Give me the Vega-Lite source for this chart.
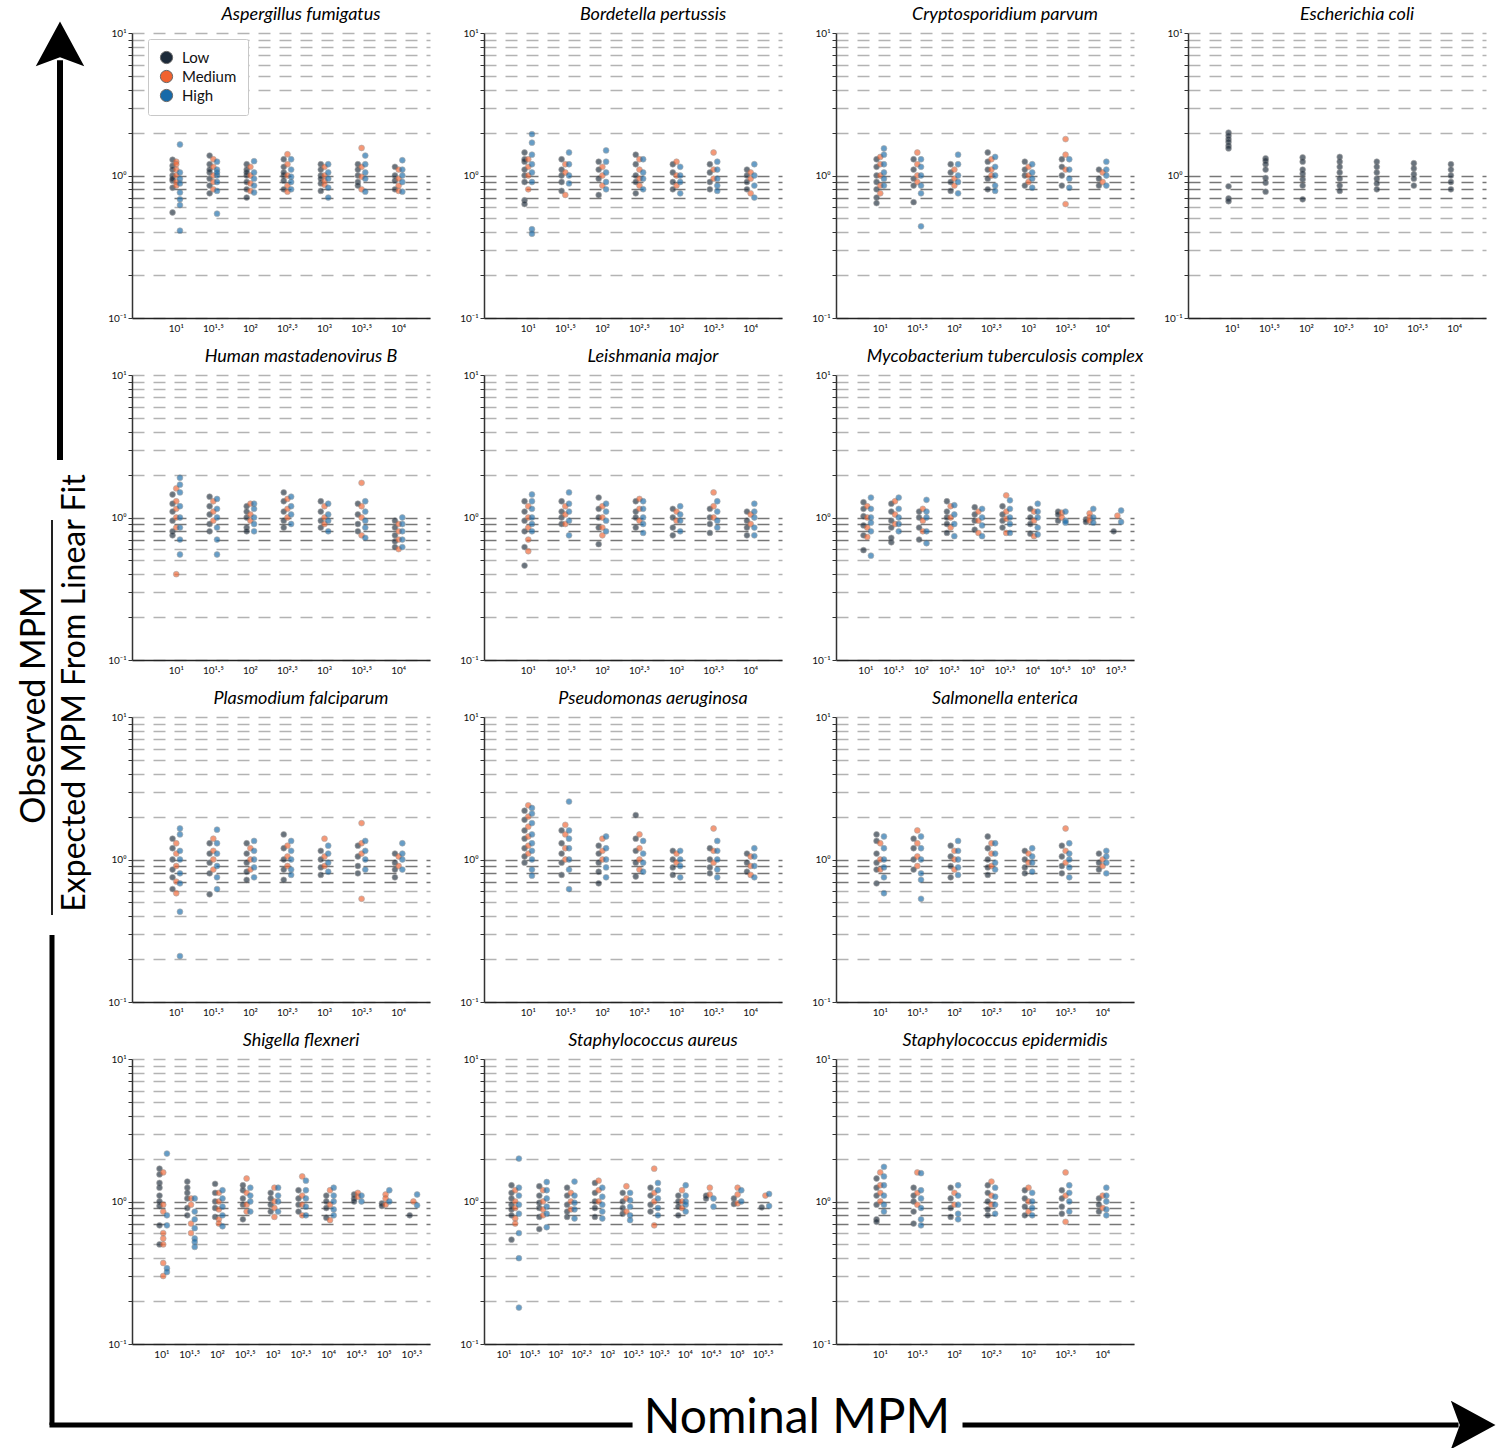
{
"$schema":"https://vega.github.io/schema/vega-lite/v6.json",
"padding":{"left":0,"top":6,"right":0,"bottom":0},
"background":"white",
"config":{"view":{"stroke":null},"font":"Lato",
 "title":{"fontSize":18,"fontStyle":"italic","fontWeight":"normal","font":"Lato","offset":4,"dx":20,"color":"black"},
 "axisX":{"domainColor":"#222","domainWidth":1.5,"labelFontSize":10,"labelPadding":5,"labelColor":"#111","grid":false,"ticks":false,"labelAngle":0,"labelFont":"Lato"},
 "axisY":{"domainColor":"#333","domainWidth":1.5,"tickColor":"#333","tickSize":4,"labelFontSize":10,"labelPadding":2,"labelColor":"#111","gridDash":[12,9],"gridWidth":1.3,"labelFont":"Lato"}
},
"datasets":{"pts":[
{"p":"Af","n":"10¹","Low":[1.29,1.17,1.0,0.92,0.82,0.55,0.95,1.1],"Medium":[1.25,1.1,0.9,1.0,0.85,1.2],"High":[1.65,1.05,0.95,0.76,0.68,0.62,0.41,0.88]},
{"p":"Af","n":"10¹·⁵","Low":[1.38,1.2,1.05,0.95,0.85,0.75,1.1],"Medium":[1.3,1.15,1.0,0.9,0.8],"High":[1.25,1.1,1.0,0.9,0.78,0.54,1.05]},
{"p":"Af","n":"10²","Low":[1.2,1.1,1.0,0.9,0.8,0.7,1.05],"Medium":[1.15,1.0,0.88,0.78],"High":[1.26,1.05,0.95,0.85,0.76]},
{"p":"Af","n":"10²·⁵","Low":[1.3,1.15,1.0,0.92,0.8,1.05],"Medium":[1.41,1.2,1.0,0.85,0.77],"High":[1.3,1.1,0.98,0.9,0.8]},
{"p":"Af","n":"10³","Low":[1.2,1.1,1.0,0.88,0.78,0.95],"Medium":[1.15,1.0,0.86,0.92],"High":[1.2,1.05,0.95,0.82,0.7]},
{"p":"Af","n":"10³·⁵","Low":[1.2,1.1,1.0,0.9,0.85],"Medium":[1.56,1.15,0.98,0.8],"High":[1.38,1.2,1.05,0.95,0.77]},
{"p":"Af","n":"10⁴","Low":[1.15,1.0,0.92,0.8],"Medium":[1.1,0.95,0.78,0.85],"High":[1.28,1.1,1.0,0.9,0.77]},
{"p":"Bp","n":"10¹","Low":[1.45,1.25,1.1,1.0,0.9,0.67,1.3,0.63],"Medium":[1.3,1.15,0.8,1.0],"High":[1.95,1.7,1.4,1.2,1.05,0.9,0.42,0.39]},
{"p":"Bp","n":"10¹·⁵","Low":[1.3,1.1,1.0,0.9,0.78],"Medium":[1.2,1.05,0.73],"High":[1.45,1.2,1.0,0.88]},
{"p":"Bp","n":"10²","Low":[1.25,1.1,0.95,0.73],"Medium":[1.15,1.0,0.85],"High":[1.5,1.25,1.05,0.9,0.8]},
{"p":"Bp","n":"10²·⁵","Low":[1.4,1.2,1.0,0.9,0.75],"Medium":[1.3,1.1,0.95,0.85],"High":[1.3,1.05,0.95,0.8]},
{"p":"Bp","n":"10³","Low":[1.2,1.05,0.9,0.8],"Medium":[1.25,1.0,0.85],"High":[1.15,1.0,0.9,0.75]},
{"p":"Bp","n":"10³·⁵","Low":[1.2,1.05,0.9,0.8],"Medium":[1.45,1.1,0.95],"High":[1.25,1.1,0.95,0.85,0.78]},
{"p":"Bp","n":"10⁴","Low":[1.1,1.0,0.9,0.8],"Medium":[1.05,0.95,0.75],"High":[1.2,1.0,0.85,0.7]},
{"p":"Cp","n":"10¹","Low":[1.3,1.15,1.0,0.9,0.8,0.7,0.64],"Medium":[1.35,1.2,1.0,0.85,0.75],"High":[1.55,1.4,1.2,1.05,0.95,0.85]},
{"p":"Cp","n":"10¹·⁵","Low":[1.3,1.1,0.95,0.85,0.65],"Medium":[1.45,1.2,1.0,0.9],"High":[1.3,1.15,1.0,0.85,0.75,0.44]},
{"p":"Cp","n":"10²","Low":[1.2,1.05,0.9,0.78],"Medium":[1.1,0.95,0.85],"High":[1.4,1.2,1.0,0.9,0.75]},
{"p":"Cp","n":"10²·⁵","Low":[1.45,1.25,1.1,0.95,0.8],"Medium":[1.3,1.1,1.0],"High":[1.35,1.15,1.0,0.85,0.78]},
{"p":"Cp","n":"10³","Low":[1.25,1.1,1.0,0.85],"Medium":[1.15,1.0,0.9],"High":[1.2,1.05,0.95,0.82]},
{"p":"Cp","n":"10³·⁵","Low":[1.3,1.15,1.0,0.85],"Medium":[1.8,1.4,1.1,0.63],"High":[1.3,1.1,0.95,0.82]},
{"p":"Cp","n":"10⁴","Low":[1.1,0.95,0.85],"Medium":[1.05,0.9],"High":[1.25,1.1,1.0,0.85]},
{"p":"Ec","n":"10¹","Low":[2.0,1.9,1.8,1.72,1.62,1.55,0.84,0.69,0.66],"Medium":[],"High":[]},
{"p":"Ec","n":"10¹·⁵","Low":[1.32,1.27,1.2,1.1,0.96,0.89,0.77],"Medium":[],"High":[]},
{"p":"Ec","n":"10²","Low":[1.34,1.25,1.1,1.03,0.94,0.85,0.68],"Medium":[],"High":[]},
{"p":"Ec","n":"10²·⁵","Low":[1.35,1.25,1.15,1.05,0.95,0.85,0.78],"Medium":[],"High":[]},
{"p":"Ec","n":"10³","Low":[1.25,1.15,1.05,0.95,0.88,0.8],"Medium":[],"High":[]},
{"p":"Ec","n":"10³·⁵","Low":[1.22,1.12,1.02,0.95,0.85],"Medium":[],"High":[]},
{"p":"Ec","n":"10⁴","Low":[1.2,1.1,1.0,0.9,0.8],"Medium":[],"High":[]},
{"p":"Hm","n":"10¹","Low":[1.45,1.25,1.1,0.95,0.8,0.75],"Medium":[1.6,1.3,1.15,1.0,0.85,0.4],"High":[1.9,1.7,1.5,1.2,1.0,0.85,0.7,0.55]},
{"p":"Hm","n":"10¹·⁵","Low":[1.4,1.2,1.05,0.9,0.8],"Medium":[1.3,1.1,0.95],"High":[1.35,1.15,1.0,0.85,0.7,0.55]},
{"p":"Hm","n":"10²","Low":[1.2,1.1,1.0,0.85,0.8],"Medium":[1.25,1.05,0.95],"High":[1.25,1.15,1.0,0.9,0.8]},
{"p":"Hm","n":"10²·⁵","Low":[1.5,1.3,1.1,0.95,0.85],"Medium":[1.35,1.15,1.0],"High":[1.4,1.2,1.05,0.9]},
{"p":"Hm","n":"10³","Low":[1.3,1.1,0.95,0.85],"Medium":[1.2,1.0,0.9],"High":[1.25,1.05,0.95,0.8]},
{"p":"Hm","n":"10³·⁵","Low":[1.25,1.05,0.9,0.8],"Medium":[1.75,1.2,1.0,0.75],"High":[1.3,1.1,0.95,0.85,0.72]},
{"p":"Hm","n":"10⁴","Low":[0.95,0.85,0.75,0.68,0.62],"Medium":[0.9,0.8,0.7,0.6],"High":[1.0,0.9,0.8,0.7,0.62]},
{"p":"Lm","n":"10¹","Low":[1.3,1.1,0.95,0.8,0.62,0.46],"Medium":[1.2,1.0,0.85,0.7,0.58],"High":[1.45,1.3,1.15,1.0,0.9,0.8]},
{"p":"Lm","n":"10¹·⁵","Low":[1.3,1.1,1.0,0.9],"Medium":[1.2,1.05,0.9],"High":[1.5,1.25,1.1,0.95,0.75]},
{"p":"Lm","n":"10²","Low":[1.38,1.15,1.0,0.85,0.65],"Medium":[1.2,1.0,0.85,0.75],"High":[1.25,1.1,0.95,0.8]},
{"p":"Lm","n":"10²·⁵","Low":[1.3,1.1,1.0,0.85],"Medium":[1.35,1.15,0.95],"High":[1.3,1.15,1.0,0.9,0.78]},
{"p":"Lm","n":"10³","Low":[1.15,1.0,0.85,0.75],"Medium":[1.1,0.95],"High":[1.2,1.05,0.95,0.8]},
{"p":"Lm","n":"10³·⁵","Low":[1.15,1.0,0.9,0.78],"Medium":[1.5,1.2,1.0],"High":[1.3,1.1,0.95,0.85]},
{"p":"Lm","n":"10⁴","Low":[1.1,0.95,0.85,0.75],"Medium":[1.05,0.9],"High":[1.25,1.1,1.0,0.85,0.75]},
{"p":"Mt","n":"10¹","Low":[1.28,1.15,1.02,0.88,0.75,0.59],"Medium":[1.2,1.0,0.85,0.73],"High":[1.38,1.15,1.0,0.92,0.8,0.54]},
{"p":"Mt","n":"10¹·⁵","Low":[1.25,1.1,0.95,0.85,0.72,0.67],"Medium":[1.3,1.05,0.9],"High":[1.38,1.15,1.0,0.9,0.8]},
{"p":"Mt","n":"10²","Low":[1.1,1.0,0.85,0.7],"Medium":[1.15,0.95,0.8],"High":[1.33,1.1,1.0,0.8,0.66]},
{"p":"Mt","n":"10²·⁵","Low":[1.3,1.1,1.0,0.9,0.78],"Medium":[1.2,1.0,0.85],"High":[1.22,1.05,0.9,0.74]},
{"p":"Mt","n":"10³","Low":[1.18,1.05,0.95,0.82],"Medium":[1.1,0.95,0.78],"High":[1.15,1.0,0.88,0.74]},
{"p":"Mt","n":"10³·⁵","Low":[1.2,1.05,0.95,0.85],"Medium":[1.43,1.1,0.98,0.78],"High":[1.32,1.15,1.0,0.9,0.78]},
{"p":"Mt","n":"10⁴","Low":[1.15,1.0,0.9,0.77],"Medium":[1.1,0.95,0.74],"High":[1.25,1.1,1.0,0.85,0.76]},
{"p":"Mt","n":"10⁴·⁵","Low":[1.1,1.05,0.95],"Medium":[1.08,1.0],"High":[1.1,0.95,0.92]},
{"p":"Mt","n":"10⁵","Low":[0.97,0.93],"Medium":[1.07,1.0,0.95],"High":[1.15,1.0,0.92]},
{"p":"Mt","n":"10⁵·⁵","Low":[0.8],"Medium":[1.03],"High":[1.12,0.93]},
{"p":"Pf","n":"10¹","Low":[1.4,1.2,1.0,0.85,0.75,0.62],"Medium":[1.3,1.1,0.9,0.7,0.58],"High":[1.65,1.5,1.15,1.0,0.8,0.68,0.43,0.21]},
{"p":"Pf","n":"10¹·⁵","Low":[1.3,1.1,0.95,0.8,0.57],"Medium":[1.4,1.15,1.0,0.85],"High":[1.62,1.3,1.1,0.9,0.75,0.62]},
{"p":"Pf","n":"10²","Low":[1.3,1.1,0.95,0.82,0.72],"Medium":[1.2,1.0,0.85],"High":[1.35,1.15,1.0,0.88,0.75]},
{"p":"Pf","n":"10²·⁵","Low":[1.5,1.2,1.0,0.85,0.72],"Medium":[1.25,1.05,0.9],"High":[1.35,1.15,1.0,0.85,0.78]},
{"p":"Pf","n":"10³","Low":[1.15,1.0,0.88,0.78],"Medium":[1.4,1.05,0.9],"High":[1.25,1.1,0.95,0.82]},
{"p":"Pf","n":"10³·⁵","Low":[1.25,1.05,0.9,0.8],"Medium":[1.8,1.3,1.1,0.53],"High":[1.35,1.15,1.0,0.85]},
{"p":"Pf","n":"10⁴","Low":[1.1,0.95,0.85,0.75],"Medium":[1.05,0.9],"High":[1.3,1.1,1.0,0.85]},
{"p":"Pa","n":"10¹","Low":[2.2,1.9,1.6,1.4,1.2,1.05,0.95],"Medium":[2.4,2.0,1.7,1.45,1.25,1.1],"High":[2.3,2.1,1.8,1.5,1.3,1.15,1.0,0.85,0.77]},
{"p":"Pa","n":"10¹·⁵","Low":[1.6,1.3,1.1,0.95,0.78],"Medium":[1.75,1.5,1.2,1.0],"High":[2.55,1.6,1.4,1.2,1.0,0.85,0.62]},
{"p":"Pa","n":"10²","Low":[1.25,1.1,0.95,0.82,0.68],"Medium":[1.4,1.15,1.0],"High":[1.45,1.2,1.0,0.88,0.75]},
{"p":"Pa","n":"10²·⁵","Low":[2.05,1.4,1.15,0.95,0.76],"Medium":[1.5,1.2,1.0,0.85],"High":[1.35,1.1,0.95,0.82]},
{"p":"Pa","n":"10³","Low":[1.15,1.0,0.88,0.78],"Medium":[1.1,0.95],"High":[1.15,1.0,0.9,0.75]},
{"p":"Pa","n":"10³·⁵","Low":[1.2,1.0,0.88,0.8],"Medium":[1.65,1.15,0.95],"High":[1.35,1.15,1.0,0.85,0.75]},
{"p":"Pa","n":"10⁴","Low":[1.1,0.95,0.82],"Medium":[1.05,0.9,0.78],"High":[1.2,1.05,0.9,0.75]},
{"p":"Se","n":"10¹","Low":[1.5,1.35,1.1,0.95,0.85,0.68],"Medium":[1.3,1.0,0.85],"High":[1.45,1.2,1.0,0.88,0.75,0.58]},
{"p":"Se","n":"10¹·⁵","Low":[1.4,1.2,1.0,0.85],"Medium":[1.6,1.3,1.05,0.9],"High":[1.45,1.2,1.0,0.8,0.72,0.53]},
{"p":"Se","n":"10²","Low":[1.25,1.05,0.9,0.75],"Medium":[1.15,1.0,0.85],"High":[1.35,1.15,1.0,0.88,0.78]},
{"p":"Se","n":"10²·⁵","Low":[1.45,1.2,1.0,0.88,0.78],"Medium":[1.3,1.1,0.9],"High":[1.3,1.1,0.95,0.85]},
{"p":"Se","n":"10³","Low":[1.15,1.0,0.88,0.8],"Medium":[1.1,0.95],"High":[1.2,1.05,0.95,0.82]},
{"p":"Se","n":"10³·⁵","Low":[1.25,1.05,0.9,0.8],"Medium":[1.65,1.15,0.95],"High":[1.3,1.1,1.0,0.88,0.75]},
{"p":"Se","n":"10⁴","Low":[1.1,0.95,0.85],"Medium":[1.0,0.9],"High":[1.15,1.05,0.95,0.8]},
{"p":"Sf","n":"10¹","Low":[1.7,1.55,1.35,1.25,1.1,1.0,0.93,0.68,0.5],"Medium":[1.6,0.95,0.85,0.6,0.55,0.5,0.37,0.3],"High":[2.17,0.8,0.68,0.34,0.32]},
{"p":"Sf","n":"10¹·⁵","Low":[1.38,1.25,1.15,1.05,0.9,0.8],"Medium":[1.05,0.95,0.7,0.6],"High":[1.05,0.85,0.75,0.65,0.55,0.52,0.48]},
{"p":"Sf","n":"10²","Low":[1.33,1.15,1.0,0.9,0.78],"Medium":[1.15,1.0,0.88,0.75,0.7],"High":[1.2,1.05,0.92,0.8,0.67]},
{"p":"Sf","n":"10²·⁵","Low":[1.3,1.2,1.05,0.95,0.75],"Medium":[1.45,1.15,0.95,0.85],"High":[1.25,1.1,1.0,0.85]},
{"p":"Sf","n":"10³","Low":[1.15,1.05,0.95,0.85],"Medium":[1.25,1.0,0.9,0.78],"High":[1.25,1.1,1.0,0.85]},
{"p":"Sf","n":"10³·⁵","Low":[1.2,1.05,0.95,0.85],"Medium":[1.5,1.1,0.95,0.8],"High":[1.4,1.2,1.05,0.92,0.8]},
{"p":"Sf","n":"10⁴","Low":[1.1,1.0,0.9,0.77],"Medium":[1.2,0.95,0.74],"High":[1.25,1.1,1.0,0.88,0.8]},
{"p":"Sf","n":"10⁴·⁵","Low":[1.12,1.05,1.0],"Medium":[1.15,1.08],"High":[1.1,1.0]},
{"p":"Sf","n":"10⁵","Low":[0.97,0.93],"Medium":[1.12,1.05,0.95],"High":[1.2,1.0]},
{"p":"Sf","n":"10⁵·⁵","Low":[0.8],"Medium":[1.0],"High":[1.12,0.94]},
{"p":"Sa","n":"10¹","Low":[1.3,1.15,1.05,0.95,0.88,0.8,0.54],"Medium":[1.2,1.0,0.9,0.76,0.7],"High":[2.0,1.25,1.1,0.95,0.82,0.6,0.4,0.18]},
{"p":"Sa","n":"10¹·⁵","Low":[1.28,1.1,0.98,0.9,0.78,0.64],"Medium":[1.2,1.0,0.88,0.8],"High":[1.37,1.2,1.05,0.92,0.82,0.66]},
{"p":"Sa","n":"10²","Low":[1.25,1.1,0.95,0.85,0.78],"Medium":[1.15,1.0,0.88],"High":[1.38,1.1,0.98,0.88,0.76]},
{"p":"Sa","n":"10²·⁵","Low":[1.35,1.15,1.0,0.9,0.78],"Medium":[1.4,1.2,1.0],"High":[1.25,1.08,0.95,0.85,0.76]},
{"p":"Sa","n":"10³","Low":[1.15,1.0,0.9,0.82],"Medium":[1.28,1.05,0.85],"High":[1.15,1.02,0.92,0.8,0.74]},
{"p":"Sa","n":"10³·⁵","Low":[1.25,1.1,0.95,0.85],"Medium":[1.7,1.15,1.0,0.68],"High":[1.35,1.2,1.05,0.9,0.8]},
{"p":"Sa","n":"10⁴","Low":[1.1,1.0,0.92,0.8],"Medium":[1.2,1.0,0.9],"High":[1.3,1.1,1.0,0.95,0.85]},
{"p":"Sa","n":"10⁴·⁵","Low":[1.1,1.05],"Medium":[1.25,1.12],"High":[1.05,0.92]},
{"p":"Sa","n":"10⁵","Low":[1.05,0.96],"Medium":[1.25,1.12,0.97],"High":[1.2,1.0]},
{"p":"Sa","n":"10⁵·⁵","Low":[0.91],"Medium":[1.1],"High":[1.13,0.93]},
{"p":"Sp","n":"10¹","Low":[1.45,1.25,1.1,0.95,0.75,0.72],"Medium":[1.6,1.3,1.15,1.0],"High":[1.75,1.5,1.3,1.1,0.95,0.85]},
{"p":"Sp","n":"10¹·⁵","Low":[1.25,1.1,1.0,0.85,0.7],"Medium":[1.6,1.15,0.95],"High":[1.58,1.2,1.05,0.9,0.75,0.68]},
{"p":"Sp","n":"10²","Low":[1.25,1.05,0.9,0.78],"Medium":[1.15,0.95],"High":[1.3,1.1,0.95,0.82,0.75]},
{"p":"Sp","n":"10²·⁵","Low":[1.3,1.15,1.0,0.88,0.8],"Medium":[1.38,1.1,0.95],"High":[1.25,1.08,0.95,0.82]},
{"p":"Sp","n":"10³","Low":[1.2,1.05,0.92,0.8],"Medium":[1.25,1.0,0.85],"High":[1.15,1.0,0.9,0.8]},
{"p":"Sp","n":"10³·⁵","Low":[1.2,1.05,0.92,0.82],"Medium":[1.6,1.1,0.72],"High":[1.3,1.15,1.0,0.85]},
{"p":"Sp","n":"10⁴","Low":[1.05,0.95,0.85],"Medium":[1.1,0.9],"High":[1.25,1.1,1.0,0.88,0.8]}
]},
"spacing":0,
"resolve":{"legend":{"color":"independent"}},
"vconcat":[
{"spacing":7,"resolve":{"legend":{"color":"independent"}},
 "hconcat":[
  {"width":100,"height":1362,
   "layer":[
    {"data":{"values":[{"x":0.6,"y":0.6865,"x2":0.6,"y2":0.98}]},"mark":{"type":"rule","strokeWidth":6,"color":"black"},
     "encoding":{"x":{"field":"x","type":"quantitative","scale":{"domain":[0,1],"nice":false,"zero":false},"axis":null},"y":{"field":"y","type":"quantitative","scale":{"domain":[0,1],"nice":false,"zero":false},"axis":null},"x2":{"field":"x2"},"y2":{"field":"y2"}}},
    {"data":{"values":[{"x":0.495,"y":0.3377,"x2":0.545,"y2":0}]},"mark":{"type":"rect","color":"black","strokeWidth":0},
     "encoding":{"x":{"field":"x","type":"quantitative"},"y":{"field":"y","type":"quantitative"},"x2":{"field":"x2"},"y2":{"field":"y2"}}},
    {"data":{"values":[{"x":0.52,"y":0.3524,"x2":0.52,"y2":0.6424}]},"mark":{"type":"rule","strokeWidth":2,"color":"#222"},
     "encoding":{"x":{"field":"x","type":"quantitative"},"y":{"field":"y","type":"quantitative"},"x2":{"field":"x2"},"y2":{"field":"y2"}}},
    {"data":{"values":[{"x":0.6,"y":0.9897}]},"mark":{"type":"point","shape":"M0,-1L0.95,0.75L0,0.4L-0.95,0.75Z","size":2600,"filled":true,"color":"black","opacity":1,"strokeWidth":0},
     "encoding":{"x":{"field":"x","type":"quantitative"},"y":{"field":"y","type":"quantitative"}}},
    {"data":{"values":[{"x":0.35,"y":0.5066,"t":"Observed MPM"}]},"mark":{"type":"text","angle":270,"fontSize":34,"font":"Lato","color":"black","baseline":"middle","align":"center"},
     "encoding":{"x":{"field":"x","type":"quantitative"},"y":{"field":"y","type":"quantitative"},"text":{"field":"t"}}},
    {"data":{"values":[{"x":0.75,"y":0.5154,"t":"Expected MPM From Linear Fit"}]},"mark":{"type":"text","angle":270,"fontSize":32,"font":"Lato","color":"black","baseline":"middle","align":"center"},
     "encoding":{"x":{"field":"x","type":"quantitative"},"y":{"field":"y","type":"quantitative"},"text":{"field":"t"}}}
   ]},
  {"data":{"name":"pts"},
   "transform":[{"fold":["Low","Medium","High"]},{"flatten":["value"]}],
   "spacing":15,"resolve":{"legend":{"color":"independent"}},
   "vconcat":[
    {"spacing":54,"bounds":"flush","resolve":{"legend":{"color":"independent"}},"hconcat":[
     {"width":298,"height":285,"title":"Aspergillus fumigatus","transform":[{"filter":"datum.p=='Af'"}],
      "mark":{"type":"point","filled":true,"size":34,"opacity":0.65,"stroke":"#7a7a7a","strokeWidth":0.6},
      "encoding":{
       "x":{"field":"n","type":"nominal","title":null,"scale":{"type":"band","domain":["10¹","10¹·⁵","10²","10²·⁵","10³","10³·⁵","10⁴"],"paddingInner":0.7,"paddingOuter":0.87,"align":0.6}},
       "xOffset":{"field":"key","type":"nominal","sort":["Low","Medium","High"]},
       "y":{"field":"value","type":"quantitative","title":null,"scale":{"type":"log","domain":[0.1,10]},"axis":{"values":[0.1,0.2,0.3,0.4,0.5,0.6,0.7,0.8,0.9,1,2,3,4,5,6,7,8,9,10],"labelExpr":"datum.value==0.1?'10⁻¹':datum.value==1?'10⁰':datum.value==10?'10¹':''","grid":true,"gridColor":{"condition":{"test":"datum.value>=0.65&&datum.value<=1.05","value":"#777"},"value":"#b3b3b3"}}},
       "color":{"field":"key","type":"nominal","scale":{"domain":["Low","Medium","High"],"range":["#1c2a39","#f0622f","#166aa9"]},
        "legend":{"orient":"none","legendX":16,"legendY":6,"title":null,"padding":11,"strokeColor":"#c8c8c8","cornerRadius":2,"fillColor":"white","symbolType":"circle","symbolSize":150,"symbolOpacity":1,"symbolStrokeColor":"#666","symbolStrokeWidth":1,"labelFontSize":15,"labelFont":"Lato","labelColor":"#111","rowPadding":2,"labelOffset":8}}}},
     {"width":298,"height":285,"title":"Bordetella pertussis","transform":[{"filter":"datum.p=='Bp'"}],
      "mark":{"type":"point","filled":true,"size":34,"opacity":0.65,"stroke":"#7a7a7a","strokeWidth":0.6},
      "encoding":{
       "x":{"field":"n","type":"nominal","title":null,"scale":{"type":"band","domain":["10¹","10¹·⁵","10²","10²·⁵","10³","10³·⁵","10⁴"],"paddingInner":0.7,"paddingOuter":0.87,"align":0.6}},
       "xOffset":{"field":"key","type":"nominal","sort":["Low","Medium","High"]},
       "y":{"field":"value","type":"quantitative","title":null,"scale":{"type":"log","domain":[0.1,10]},"axis":{"values":[0.1,0.2,0.3,0.4,0.5,0.6,0.7,0.8,0.9,1,2,3,4,5,6,7,8,9,10],"labelExpr":"datum.value==0.1?'10⁻¹':datum.value==1?'10⁰':datum.value==10?'10¹':''","grid":true,"gridColor":{"condition":{"test":"datum.value>=0.65&&datum.value<=1.05","value":"#777"},"value":"#b3b3b3"}}},
       "color":{"field":"key","type":"nominal","scale":{"domain":["Low","Medium","High"],"range":["#1c2a39","#f0622f","#166aa9"]},"legend":null}}},
     {"width":298,"height":285,"title":"Cryptosporidium parvum","transform":[{"filter":"datum.p=='Cp'"}],
      "mark":{"type":"point","filled":true,"size":34,"opacity":0.65,"stroke":"#7a7a7a","strokeWidth":0.6},
      "encoding":{
       "x":{"field":"n","type":"nominal","title":null,"scale":{"type":"band","domain":["10¹","10¹·⁵","10²","10²·⁵","10³","10³·⁵","10⁴"],"paddingInner":0.7,"paddingOuter":0.87,"align":0.6}},
       "xOffset":{"field":"key","type":"nominal","sort":["Low","Medium","High"]},
       "y":{"field":"value","type":"quantitative","title":null,"scale":{"type":"log","domain":[0.1,10]},"axis":{"values":[0.1,0.2,0.3,0.4,0.5,0.6,0.7,0.8,0.9,1,2,3,4,5,6,7,8,9,10],"labelExpr":"datum.value==0.1?'10⁻¹':datum.value==1?'10⁰':datum.value==10?'10¹':''","grid":true,"gridColor":{"condition":{"test":"datum.value>=0.65&&datum.value<=1.05","value":"#777"},"value":"#b3b3b3"}}},
       "color":{"field":"key","type":"nominal","scale":{"domain":["Low","Medium","High"],"range":["#1c2a39","#f0622f","#166aa9"]},"legend":null}}},
     {"width":298,"height":285,"title":"Escherichia coli","transform":[{"filter":"datum.p=='Ec'"}],
      "mark":{"type":"point","filled":true,"size":34,"opacity":0.65,"stroke":"#7a7a7a","strokeWidth":0.6},
      "encoding":{
       "x":{"field":"n","type":"nominal","title":null,"scale":{"type":"band","domain":["10¹","10¹·⁵","10²","10²·⁵","10³","10³·⁵","10⁴"],"paddingInner":0.7,"paddingOuter":0.87,"align":0.6}},
       "xOffset":{"field":"key","type":"nominal","sort":["Low","Medium","High"]},
       "y":{"field":"value","type":"quantitative","title":null,"scale":{"type":"log","domain":[0.1,10]},"axis":{"values":[0.1,0.2,0.3,0.4,0.5,0.6,0.7,0.8,0.9,1,2,3,4,5,6,7,8,9,10],"labelExpr":"datum.value==0.1?'10⁻¹':datum.value==1?'10⁰':datum.value==10?'10¹':''","grid":true,"gridColor":{"condition":{"test":"datum.value>=0.65&&datum.value<=1.05","value":"#777"},"value":"#b3b3b3"}}},
       "color":{"field":"key","type":"nominal","scale":{"domain":["Low","Medium","High"],"range":["#1c2a39","#f0622f","#166aa9"]},"legend":null}}}
    ]},
    {"spacing":54,"bounds":"flush","resolve":{"legend":{"color":"independent"}},"hconcat":[
     {"width":298,"height":285,"title":"Human mastadenovirus B","transform":[{"filter":"datum.p=='Hm'"}],
      "mark":{"type":"point","filled":true,"size":34,"opacity":0.65,"stroke":"#7a7a7a","strokeWidth":0.6},
      "encoding":{
       "x":{"field":"n","type":"nominal","title":null,"scale":{"type":"band","domain":["10¹","10¹·⁵","10²","10²·⁵","10³","10³·⁵","10⁴"],"paddingInner":0.7,"paddingOuter":0.87,"align":0.6}},
       "xOffset":{"field":"key","type":"nominal","sort":["Low","Medium","High"]},
       "y":{"field":"value","type":"quantitative","title":null,"scale":{"type":"log","domain":[0.1,10]},"axis":{"values":[0.1,0.2,0.3,0.4,0.5,0.6,0.7,0.8,0.9,1,2,3,4,5,6,7,8,9,10],"labelExpr":"datum.value==0.1?'10⁻¹':datum.value==1?'10⁰':datum.value==10?'10¹':''","grid":true,"gridColor":{"condition":{"test":"datum.value>=0.65&&datum.value<=1.05","value":"#777"},"value":"#b3b3b3"}}},
       "color":{"field":"key","type":"nominal","scale":{"domain":["Low","Medium","High"],"range":["#1c2a39","#f0622f","#166aa9"]},"legend":null}}},
     {"width":298,"height":285,"title":"Leishmania major","transform":[{"filter":"datum.p=='Lm'"}],
      "mark":{"type":"point","filled":true,"size":34,"opacity":0.65,"stroke":"#7a7a7a","strokeWidth":0.6},
      "encoding":{
       "x":{"field":"n","type":"nominal","title":null,"scale":{"type":"band","domain":["10¹","10¹·⁵","10²","10²·⁵","10³","10³·⁵","10⁴"],"paddingInner":0.7,"paddingOuter":0.87,"align":0.6}},
       "xOffset":{"field":"key","type":"nominal","sort":["Low","Medium","High"]},
       "y":{"field":"value","type":"quantitative","title":null,"scale":{"type":"log","domain":[0.1,10]},"axis":{"values":[0.1,0.2,0.3,0.4,0.5,0.6,0.7,0.8,0.9,1,2,3,4,5,6,7,8,9,10],"labelExpr":"datum.value==0.1?'10⁻¹':datum.value==1?'10⁰':datum.value==10?'10¹':''","grid":true,"gridColor":{"condition":{"test":"datum.value>=0.65&&datum.value<=1.05","value":"#777"},"value":"#b3b3b3"}}},
       "color":{"field":"key","type":"nominal","scale":{"domain":["Low","Medium","High"],"range":["#1c2a39","#f0622f","#166aa9"]},"legend":null}}},
     {"width":298,"height":285,"title":"Mycobacterium tuberculosis complex","transform":[{"filter":"datum.p=='Mt'"}],
      "mark":{"type":"point","filled":true,"size":34,"opacity":0.65,"stroke":"#7a7a7a","strokeWidth":0.6},
      "encoding":{
       "x":{"field":"n","type":"nominal","title":null,"scale":{"type":"band","domain":["10¹","10¹·⁵","10²","10²·⁵","10³","10³·⁵","10⁴","10⁴·⁵","10⁵","10⁵·⁵"],"paddingInner":0.7,"paddingOuter":0.71,"align":0.65}},
       "xOffset":{"field":"key","type":"nominal","sort":["Low","Medium","High"]},
       "y":{"field":"value","type":"quantitative","title":null,"scale":{"type":"log","domain":[0.1,10]},"axis":{"values":[0.1,0.2,0.3,0.4,0.5,0.6,0.7,0.8,0.9,1,2,3,4,5,6,7,8,9,10],"labelExpr":"datum.value==0.1?'10⁻¹':datum.value==1?'10⁰':datum.value==10?'10¹':''","grid":true,"gridColor":{"condition":{"test":"datum.value>=0.65&&datum.value<=1.05","value":"#777"},"value":"#b3b3b3"}}},
       "color":{"field":"key","type":"nominal","scale":{"domain":["Low","Medium","High"],"range":["#1c2a39","#f0622f","#166aa9"]},"legend":null}}}
    ]},
    {"spacing":54,"bounds":"flush","resolve":{"legend":{"color":"independent"}},"hconcat":[
     {"width":298,"height":285,"title":"Plasmodium falciparum","transform":[{"filter":"datum.p=='Pf'"}],
      "mark":{"type":"point","filled":true,"size":34,"opacity":0.65,"stroke":"#7a7a7a","strokeWidth":0.6},
      "encoding":{
       "x":{"field":"n","type":"nominal","title":null,"scale":{"type":"band","domain":["10¹","10¹·⁵","10²","10²·⁵","10³","10³·⁵","10⁴"],"paddingInner":0.7,"paddingOuter":0.87,"align":0.6}},
       "xOffset":{"field":"key","type":"nominal","sort":["Low","Medium","High"]},
       "y":{"field":"value","type":"quantitative","title":null,"scale":{"type":"log","domain":[0.1,10]},"axis":{"values":[0.1,0.2,0.3,0.4,0.5,0.6,0.7,0.8,0.9,1,2,3,4,5,6,7,8,9,10],"labelExpr":"datum.value==0.1?'10⁻¹':datum.value==1?'10⁰':datum.value==10?'10¹':''","grid":true,"gridColor":{"condition":{"test":"datum.value>=0.65&&datum.value<=1.05","value":"#777"},"value":"#b3b3b3"}}},
       "color":{"field":"key","type":"nominal","scale":{"domain":["Low","Medium","High"],"range":["#1c2a39","#f0622f","#166aa9"]},"legend":null}}},
     {"width":298,"height":285,"title":"Pseudomonas aeruginosa","transform":[{"filter":"datum.p=='Pa'"}],
      "mark":{"type":"point","filled":true,"size":34,"opacity":0.65,"stroke":"#7a7a7a","strokeWidth":0.6},
      "encoding":{
       "x":{"field":"n","type":"nominal","title":null,"scale":{"type":"band","domain":["10¹","10¹·⁵","10²","10²·⁵","10³","10³·⁵","10⁴"],"paddingInner":0.7,"paddingOuter":0.87,"align":0.6}},
       "xOffset":{"field":"key","type":"nominal","sort":["Low","Medium","High"]},
       "y":{"field":"value","type":"quantitative","title":null,"scale":{"type":"log","domain":[0.1,10]},"axis":{"values":[0.1,0.2,0.3,0.4,0.5,0.6,0.7,0.8,0.9,1,2,3,4,5,6,7,8,9,10],"labelExpr":"datum.value==0.1?'10⁻¹':datum.value==1?'10⁰':datum.value==10?'10¹':''","grid":true,"gridColor":{"condition":{"test":"datum.value>=0.65&&datum.value<=1.05","value":"#777"},"value":"#b3b3b3"}}},
       "color":{"field":"key","type":"nominal","scale":{"domain":["Low","Medium","High"],"range":["#1c2a39","#f0622f","#166aa9"]},"legend":null}}},
     {"width":298,"height":285,"title":"Salmonella enterica","transform":[{"filter":"datum.p=='Se'"}],
      "mark":{"type":"point","filled":true,"size":34,"opacity":0.65,"stroke":"#7a7a7a","strokeWidth":0.6},
      "encoding":{
       "x":{"field":"n","type":"nominal","title":null,"scale":{"type":"band","domain":["10¹","10¹·⁵","10²","10²·⁵","10³","10³·⁵","10⁴"],"paddingInner":0.7,"paddingOuter":0.87,"align":0.6}},
       "xOffset":{"field":"key","type":"nominal","sort":["Low","Medium","High"]},
       "y":{"field":"value","type":"quantitative","title":null,"scale":{"type":"log","domain":[0.1,10]},"axis":{"values":[0.1,0.2,0.3,0.4,0.5,0.6,0.7,0.8,0.9,1,2,3,4,5,6,7,8,9,10],"labelExpr":"datum.value==0.1?'10⁻¹':datum.value==1?'10⁰':datum.value==10?'10¹':''","grid":true,"gridColor":{"condition":{"test":"datum.value>=0.65&&datum.value<=1.05","value":"#777"},"value":"#b3b3b3"}}},
       "color":{"field":"key","type":"nominal","scale":{"domain":["Low","Medium","High"],"range":["#1c2a39","#f0622f","#166aa9"]},"legend":null}}}
    ]},
    {"spacing":54,"bounds":"flush","resolve":{"legend":{"color":"independent"}},"hconcat":[
     {"width":298,"height":285,"title":"Shigella flexneri","transform":[{"filter":"datum.p=='Sf'"}],
      "mark":{"type":"point","filled":true,"size":34,"opacity":0.65,"stroke":"#7a7a7a","strokeWidth":0.6},
      "encoding":{
       "x":{"field":"n","type":"nominal","title":null,"scale":{"type":"band","domain":["10¹","10¹·⁵","10²","10²·⁵","10³","10³·⁵","10⁴","10⁴·⁵","10⁵","10⁵·⁵"],"paddingInner":0.7,"paddingOuter":0.71,"align":0.65}},
       "xOffset":{"field":"key","type":"nominal","sort":["Low","Medium","High"]},
       "y":{"field":"value","type":"quantitative","title":null,"scale":{"type":"log","domain":[0.1,10]},"axis":{"values":[0.1,0.2,0.3,0.4,0.5,0.6,0.7,0.8,0.9,1,2,3,4,5,6,7,8,9,10],"labelExpr":"datum.value==0.1?'10⁻¹':datum.value==1?'10⁰':datum.value==10?'10¹':''","grid":true,"gridColor":{"condition":{"test":"datum.value>=0.65&&datum.value<=1.05","value":"#777"},"value":"#b3b3b3"}}},
       "color":{"field":"key","type":"nominal","scale":{"domain":["Low","Medium","High"],"range":["#1c2a39","#f0622f","#166aa9"]},"legend":null}}},
     {"width":298,"height":285,"title":"Staphylococcus aureus",
      "resolve":{"scale":{"x":"independent"}},
      "layer":[
       {"transform":[{"filter":"datum.p=='Sa'"}],
        "mark":{"type":"point","filled":true,"size":34,"opacity":0.65,"stroke":"#7a7a7a","strokeWidth":0.6},
        "encoding":{
         "x":{"field":"n","type":"nominal","title":null,"scale":{"type":"band","domain":["10¹","10¹·⁵","10²","10²·⁵","10³","10³·⁵","10⁴","10⁴·⁵","10⁵","10⁵·⁵"],"paddingInner":0.7,"paddingOuter":0.71,"align":0.65},"axis":null},
         "xOffset":{"field":"key","type":"nominal","sort":["Low","Medium","High"]},
         "y":{"field":"value","type":"quantitative","title":null,"scale":{"type":"log","domain":[0.1,10]},"axis":{"values":[0.1,0.2,0.3,0.4,0.5,0.6,0.7,0.8,0.9,1,2,3,4,5,6,7,8,9,10],"labelExpr":"datum.value==0.1?'10⁻¹':datum.value==1?'10⁰':datum.value==10?'10¹':''","grid":true,"gridColor":{"condition":{"test":"datum.value>=0.65&&datum.value<=1.05","value":"#777"},"value":"#b3b3b3"}}},
         "color":{"field":"key","type":"nominal","scale":{"domain":["Low","Medium","High"],"range":["#1c2a39","#f0622f","#166aa9"]},"legend":null}}},
       {"data":{"values":[{"t":"10¹"},{"t":"10¹·⁵"},{"t":"10²"},{"t":"10²·⁵"},{"t":"10³"},{"t":"10³·⁵"},{"t":"10³·⁵ "},{"t":"10⁴"},{"t":"10⁴·⁵"},{"t":"10⁵"},{"t":"10⁵·⁵"}]},
        "mark":{"type":"tick","opacity":0},
        "encoding":{"x":{"field":"t","type":"nominal","title":null,"sort":null,"scale":{"type":"point","padding":0.75},"axis":{"orient":"bottom"}}}}
      ]},
     {"width":298,"height":285,"title":"Staphylococcus epidermidis","transform":[{"filter":"datum.p=='Sp'"}],
      "mark":{"type":"point","filled":true,"size":34,"opacity":0.65,"stroke":"#7a7a7a","strokeWidth":0.6},
      "encoding":{
       "x":{"field":"n","type":"nominal","title":null,"scale":{"type":"band","domain":["10¹","10¹·⁵","10²","10²·⁵","10³","10³·⁵","10⁴"],"paddingInner":0.7,"paddingOuter":0.87,"align":0.6}},
       "xOffset":{"field":"key","type":"nominal","sort":["Low","Medium","High"]},
       "y":{"field":"value","type":"quantitative","title":null,"scale":{"type":"log","domain":[0.1,10]},"axis":{"values":[0.1,0.2,0.3,0.4,0.5,0.6,0.7,0.8,0.9,1,2,3,4,5,6,7,8,9,10],"labelExpr":"datum.value==0.1?'10⁻¹':datum.value==1?'10⁰':datum.value==10?'10¹':''","grid":true,"gridColor":{"condition":{"test":"datum.value>=0.65&&datum.value<=1.05","value":"#777"},"value":"#b3b3b3"}}},
       "color":{"field":"key","type":"nominal","scale":{"domain":["Low","Medium","High"],"range":["#1c2a39","#f0622f","#166aa9"]},"legend":null}}}
    ]}
   ]}
 ]},
{"width":1498,"height":53,
 "layer":[
  {"data":{"values":[{"x":0.03304,"y":1.0,"x2":0.03638,"y2":0.434}]},
   "mark":{"type":"rect","color":"black","strokeWidth":0},
   "encoding":{"x":{"field":"x","type":"quantitative","scale":{"domain":[0,1],"nice":false,"zero":false},"axis":null},"y":{"field":"y","type":"quantitative","scale":{"domain":[0,1],"nice":false,"zero":false},"axis":null},"x2":{"field":"x2"},"y2":{"field":"y2"}}},
  {"data":{"values":[{"x":0.0347,"y":0.434,"x2":0.4206,"y2":0.434},{"x":0.6442,"y":0.434,"x2":0.972,"y2":0.434}]},
   "mark":{"type":"rule","strokeWidth":5,"color":"black","strokeCap":"square"},
   "encoding":{"x":{"field":"x","type":"quantitative"},"y":{"field":"y","type":"quantitative"},"x2":{"field":"x2"},"y2":{"field":"y2"}}},
  {"data":{"values":[{"x":0.9813,"y":0.434}]},"mark":{"type":"point","shape":"M1,0L-0.75,0.95L-0.4,0L-0.75,-0.95Z","size":2600,"filled":true,"color":"black","opacity":1,"strokeWidth":0},
   "encoding":{"x":{"field":"x","type":"quantitative"},"y":{"field":"y","type":"quantitative"}}},
  {"data":{"values":[{"x":0.532,"y":0.54,"t":"Nominal MPM"}]},"mark":{"type":"text","fontSize":48,"font":"Lato","color":"black","baseline":"middle","align":"center"},
   "encoding":{"x":{"field":"x","type":"quantitative"},"y":{"field":"y","type":"quantitative"},"text":{"field":"t"}}}
 ]}
]
}
